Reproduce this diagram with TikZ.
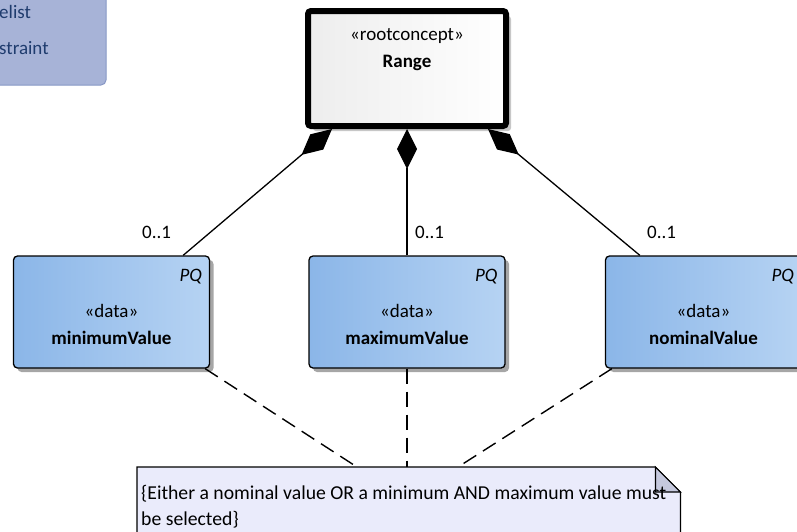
\documentclass[tikz,border=0pt]{standalone}
\usepackage{fontspec}
\setmainfont{Carlito}
\usetikzlibrary{arrows.meta,shadows,calc}
\definecolor{dataL}{RGB}{139,182,232}
\definecolor{dataR}{RGB}{182,211,243}
\definecolor{notefill}{RGB}{234,235,251}
\definecolor{foldfill}{RGB}{197,200,221}
\definecolor{legfill}{RGB}{167,179,215}
\definecolor{legdraw}{RGB}{135,151,197}
\definecolor{legtext}{RGB}{31,60,110}
\tikzset{
  txt/.style={inner sep=0pt, anchor=base, font=\fontsize{19}{22}\selectfont},
  btxt/.style={txt, font=\fontsize{19}{22}\selectfont\bfseries},
  databox/.style={draw, line width=1.3pt, rounded corners=4pt, minimum width=196pt, minimum height=112pt,
    left color=dataL, right color=dataR,
    drop shadow={shadow xshift=4pt, shadow yshift=-4pt, fill=black!35, opacity=1}},
  rootbox/.style={draw, line width=6pt, rounded corners=3pt, minimum width=198pt, minimum height=115pt,
    left color=black!7, right color=white,
    drop shadow={shadow xshift=5pt, shadow yshift=-5pt, fill=black!22, opacity=1}},
  comp/.style={line width=1.3pt, -{Diamond[length=40pt,width=20pt,fill=black]}},
  dep/.style={line width=1.4pt, dash pattern=on 15pt off 8pt},
}
\begin{document}
\begin{tikzpicture}[x=1pt,y=-1pt]
\useasboundingbox (0,0) rectangle (797,531);
\clip (0,0) rectangle (797,531);
% legend fragment
\node[draw=legdraw, fill=legfill, line width=1pt, rounded corners=5pt, minimum width=130pt, minimum height=110pt] (legend) at (41,30) {};
\node[txt, anchor=base west, text=legtext] (leg1) at (-1,18) {elist};
\node[txt, anchor=base west, text=legtext] (leg2) at (-1,54) {straint};
% root
\node[rootbox] (range) at (407,68.5) {};
\node[txt] (rangeS) at (407,40) {«rootconcept»};
\node[btxt] (rangeN) at (407,67) {Range};
% data boxes
\node[databox] (minv) at (111.5,312) {};
\node[databox] (maxv) at (407,312) {};
\node[databox] (nomv) at (703.5,312) {};
\foreach \n/\x/\lab in {minv/111.5/minimumValue, maxv/407/maximumValue, nomv/703.5/nominalValue}{
  \node[txt] (\n S) at (\x,317) {«data»};
  \node[btxt] (\n N) at (\x,344) {\lab};
  \node[txt, anchor=base east, font=\fontsize{19}{22}\selectfont\itshape] (\n PQ) at ([xshift=-8pt,yshift=-26pt]\n.north east) {PQ};
}
% compositions
\draw[comp] ([xshift=-27pt]minv.north east) -- ([xshift=27pt]range.south west);
\draw[comp] (maxv.north) -- (range.south);
\draw[comp] ([xshift=35pt]nomv.north west) -- ([xshift=-21pt]range.south east);
\node[txt, anchor=base west] (m1) at (142,238) {0..1};
\node[txt, anchor=base west] (m2) at (415,238) {0..1};
\node[txt, anchor=base west] (m3) at (647,238) {0..1};
% note
\node[minimum width=543pt, minimum height=90pt, inner sep=0pt, anchor=north west] (note) at (137,467) {};
\draw[fill=notefill, line width=1.2pt] (note.north west) -- ([xshift=-25pt]note.north east) -- ([yshift=-25pt]note.north east) -- (note.south east) -- (note.south west) -- cycle;
\draw[fill=foldfill, line width=1.2pt] ([xshift=-25pt]note.north east) -- ([xshift=-25pt,yshift=-25pt]note.north east) -- ([yshift=-25pt]note.north east) -- cycle;
\node[txt, anchor=base west, font=\fontsize{19.7}{24}\selectfont] (note1) at (141,499) {\{Either a nominal value OR a minimum AND maximum value must};
\node[txt, anchor=base west, font=\fontsize{19.7}{24}\selectfont] (note2) at (141,525) {be selected\}};
% dependencies
\draw[dep] ([xshift=-5pt]minv.south east) -- ([xshift=220pt]note.north west);
\draw[dep] (maxv.south) -- ([xshift=270pt]note.north west);
\draw[dep] ([xshift=7pt]nomv.south west) -- ([xshift=321pt]note.north west);
\end{tikzpicture}
\end{document}
